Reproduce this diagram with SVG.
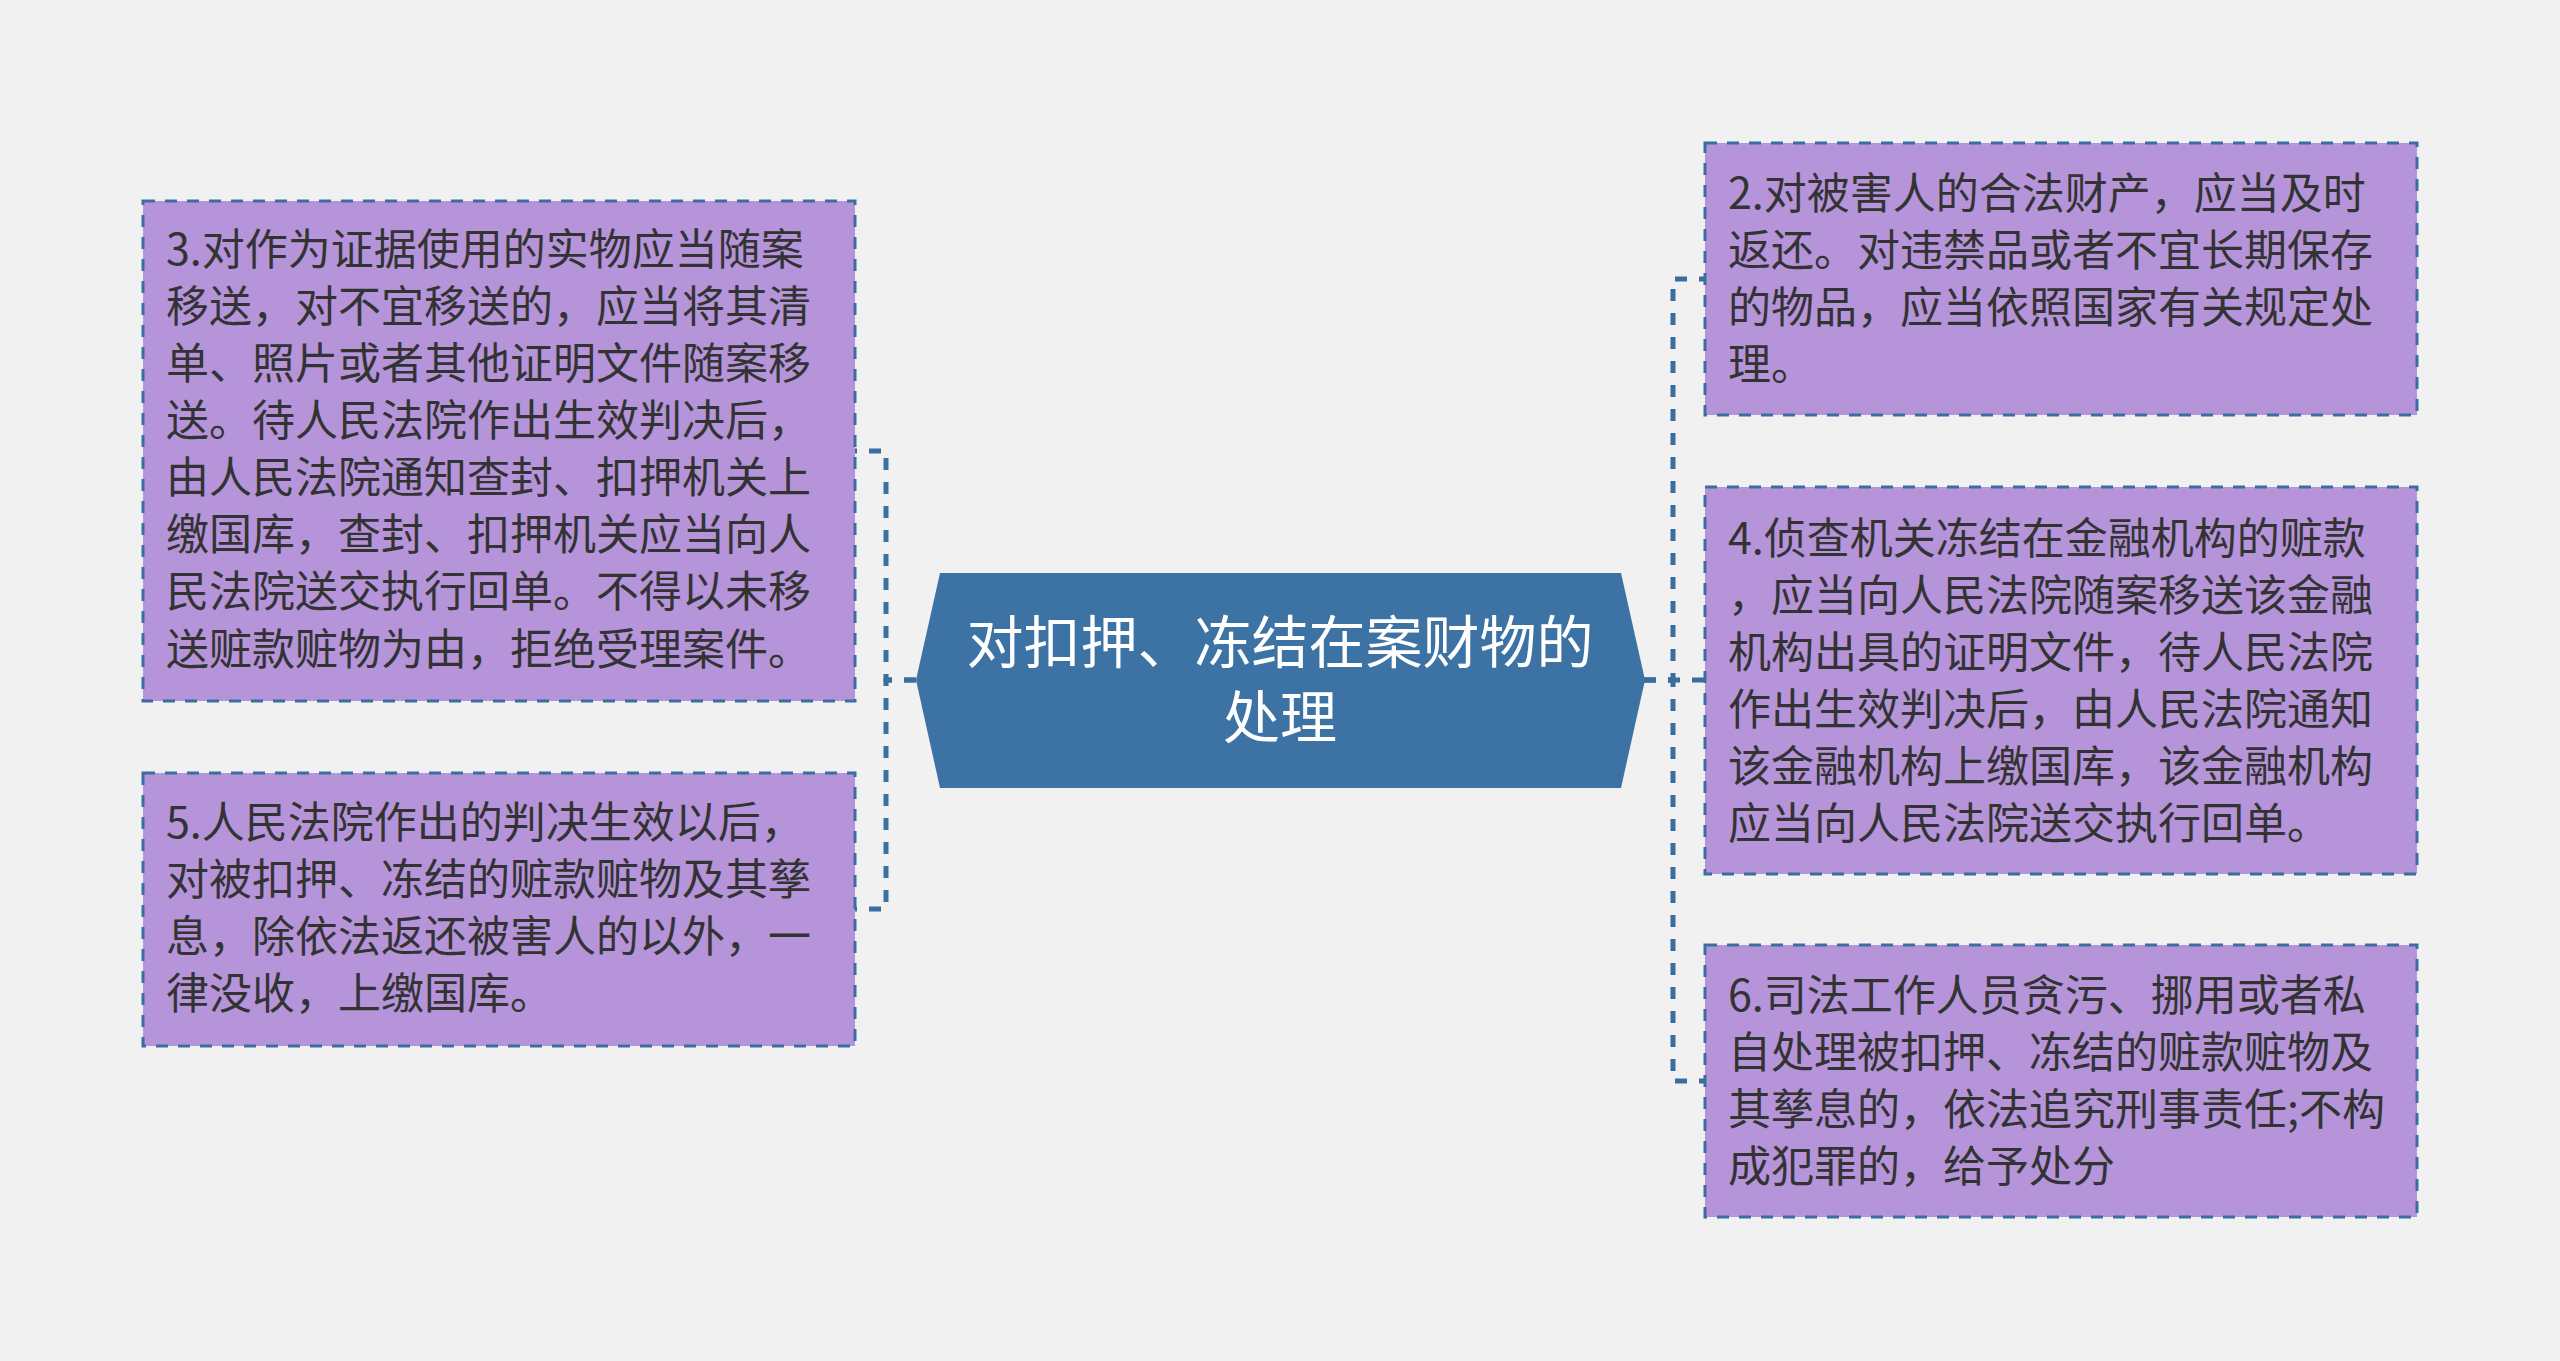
<svg xmlns="http://www.w3.org/2000/svg" width="2560" height="1361" viewBox="0 0 2560 1361">
<style>
.bg{fill:#f1f1f1}
.box{fill:#b594da;stroke:#3a6e9f;stroke-width:3;stroke-dasharray:12 10}
.t{font-family:"Noto Sans CJK SC","Noto Sans",sans-serif;font-size:43px;fill:#333333}
.ct{font-family:"Noto Sans CJK SC","Noto Sans",sans-serif;font-size:57px;fill:#ffffff;text-anchor:middle}
.halo{fill:none;stroke:#ffffff;stroke-width:8;stroke-dasharray:14 10;stroke-dashoffset:1;opacity:0.7}
.link{fill:none;stroke:#3a6e9f;stroke-width:5;stroke-dasharray:12 12}
</style>
<rect class="bg" x="0" y="0" width="2560" height="1361"/>
<g id="connectors">
<path class="link" d="M916 680 H886 V451 H855"/>
<path class="link" d="M916 680 H886 V909 H855"/>
<path class="link" d="M1644 680 H1673 V279 H1705"/>
<path class="link" d="M1644 680 H1705"/>
<path class="link" d="M1644 680 H1673 V1081 H1705"/>
</g>
<g id="center">
<polygon points="916,680 940,573 1621,573 1645,680 1621,788 940,788" fill="#3c72a4"/>
<text class="ct" x="1280" y="663">对扣押、冻结在案财物的</text>
<text class="ct" x="1280" y="738">处理</text>
</g>
<g id="node3">
<rect class="box" x="143" y="201" width="712" height="500"/>
<text class="t" x="166" y="265">3.对作为证据使用的实物应当随案</text>
<text class="t" x="166" y="322">移送，对不宜移送的，应当将其清</text>
<text class="t" x="166" y="379">单、照片或者其他证明文件随案移</text>
<text class="t" x="166" y="436">送。待人民法院作出生效判决后，</text>
<text class="t" x="166" y="493">由人民法院通知查封、扣押机关上</text>
<text class="t" x="166" y="550">缴国库，查封、扣押机关应当向人</text>
<text class="t" x="166" y="607">民法院送交执行回单。不得以未移</text>
<text class="t" x="166" y="665">送赃款赃物为由，拒绝受理案件。</text>
</g>
<g id="node5">
<rect class="box" x="143" y="773" width="712" height="273"/>
<text class="t" x="166" y="838">5.人民法院作出的判决生效以后，</text>
<text class="t" x="166" y="895">对被扣押、冻结的赃款赃物及其孳</text>
<text class="t" x="166" y="952">息，除依法返还被害人的以外，一</text>
<text class="t" x="166" y="1009">律没收，上缴国库。</text>
</g>
<g id="node2">
<rect class="box" x="1705" y="143" width="712" height="272"/>
<text class="t" x="1728" y="209">2.对被害人的合法财产，应当及时</text>
<text class="t" x="1728" y="266">返还。对违禁品或者不宜长期保存</text>
<text class="t" x="1728" y="323">的物品，应当依照国家有关规定处</text>
<text class="t" x="1728" y="380">理。</text>
</g>
<g id="node4">
<rect class="box" x="1705" y="487" width="712" height="387"/>
<text class="t" x="1728" y="554">4.侦查机关冻结在金融机构的赃款</text>
<text class="t" x="1728" y="611">，应当向人民法院随案移送该金融</text>
<text class="t" x="1728" y="668">机构出具的证明文件，待人民法院</text>
<text class="t" x="1728" y="725">作出生效判决后，由人民法院通知</text>
<text class="t" x="1728" y="782">该金融机构上缴国库，该金融机构</text>
<text class="t" x="1728" y="839">应当向人民法院送交执行回单。</text>
</g>
<g id="node6">
<rect class="box" x="1705" y="945" width="712" height="272"/>
<text class="t" x="1728" y="1011">6.司法工作人员贪污、挪用或者私</text>
<text class="t" x="1728" y="1068">自处理被扣押、冻结的赃款赃物及</text>
<text class="t" x="1728" y="1125">其孳息的，依法追究刑事责任;不构</text>
<text class="t" x="1728" y="1182">成犯罪的，给予处分</text>
</g>
</svg>
